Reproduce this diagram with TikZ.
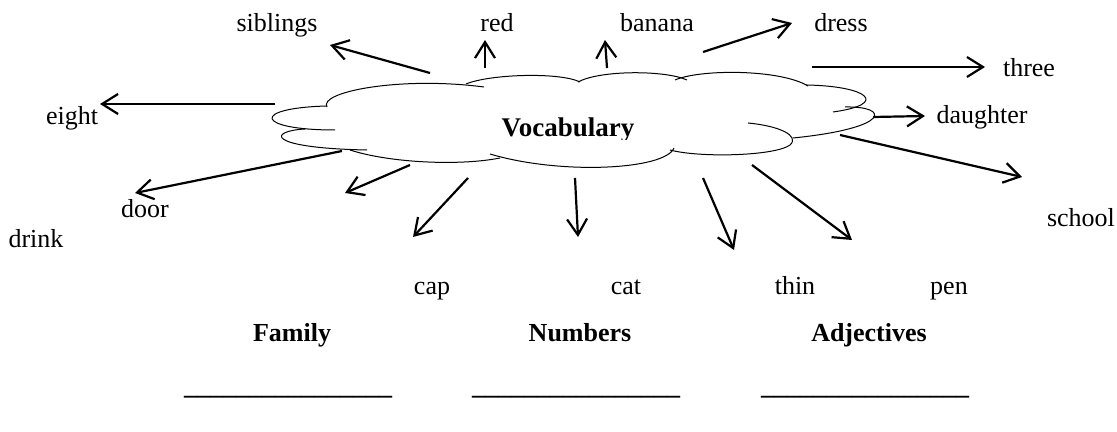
\documentclass[tikz,border=0pt]{standalone}
\usepackage{fontspec}
\setmainfont{Liberation Serif}
\usetikzlibrary{arrows.meta}

\begin{document}
\begin{tikzpicture}[x=0.5pt,y=-0.5pt,
  word/.style={anchor=base,inner sep=0pt,font=\fontsize{13}{15}\selectfont},
  topic/.style={word,font=\fontsize{13}{15}\selectfont\bfseries},
  lobe/.style={line width=0.5pt},
  arr/.style={line width=1.1pt,-{Straight Barb[length=8pt,width=10pt]}}]
\useasboundingbox (0,0) rectangle (1117,432);

% cloud
\draw[lobe] (327,107) .. controls (318,92) and (400,76) .. (484,87);
\draw[lobe] (466,84) .. controls (490,74) and (560,72) .. (580,82);
\draw[lobe] (578,82) .. controls (600,70) and (665,70) .. (687,80);
\draw[lobe] (675,80) .. controls (700,69) and (780,69) .. (808,86);
\draw[lobe] (806,85) .. controls (868,86) and (890,104) .. (833,112);
\draw[lobe] (845,107) .. controls (890,106) and (892,128) .. (793,138);
\draw[lobe] (748,123) .. controls (780,126) and (800,136) .. (790,145) .. controls (775,156) and (700,158) .. (670,150);
\draw[lobe] (674,148) .. controls (665,170) and (560,175) .. (490,154);
\draw[lobe] (350,150) .. controls (390,163) and (460,166) .. (500,158);
\draw[lobe] (305,129) .. controls (268,131) and (265,148) .. (367,150);
\draw[lobe] (327,106) .. controls (250,108) and (255,130) .. (335,130);
\begin{scope}
\clip (480,105) rectangle (660,140);
\node[word,font=\fontsize{13.5}{16}\selectfont\bfseries] (voc) at (568,137) {Vocabulary};
\end{scope}

\node[word] (sib) at (277,32) {siblings};
\node[word] (red) at (497,32) {red};
\node[word] (ban) at (657,32) {banana};
\node[word] (dre) at (841,32) {dress};
\node[word] (thr) at (1029,77) {three};
\node[word] (dau) at (982,124) {daughter};
\node[word] (eig) at (72,125) {eight};
\node[word] (doo) at (145,218) {door};
\node[word] (dri) at (36,248) {drink};
\node[word] (sch) at (1081,227) {school};
\node[word] (cap) at (432,295) {cap};
\node[word] (cat) at (626,295) {cat};
\node[word] (thi) at (795,295) {thin};
\node[word] (pen) at (949,295) {pen};

\node[topic] (fam) at (292,342) {Family};
\node[topic] (num) at (580,342) {Numbers};
\node[topic] (adj) at (869,342) {Adjectives};
\node[topic] (famline) at (288,394) {\_\_\_\_\_\_\_\_\_\_\_\_\_\_\_\_};
\node[topic] (numline) at (576,394) {\_\_\_\_\_\_\_\_\_\_\_\_\_\_\_\_};
\node[topic] (adjline) at (865,394) {\_\_\_\_\_\_\_\_\_\_\_\_\_\_\_\_};

% arrow ends
\coordinate (sibA) at (430,73);  \coordinate (sibB) at (330,45);
\coordinate (redA) at (485,68);  \coordinate (redB) at (485,40);
\coordinate (banA) at (607,68);  \coordinate (banB) at (605,40);
\coordinate (dreA) at (703,52);  \coordinate (dreB) at (792,23);
\coordinate (thrA) at (812,67);  \coordinate (thrB) at (985,67);
\coordinate (dauA) at (873,117); \coordinate (dauB) at (925,116);
\coordinate (schA) at (840,135); \coordinate (schB) at (1022,177);
\coordinate (penA) at (752,165); \coordinate (penB) at (852,240);
\coordinate (thiA) at (703,178); \coordinate (thiB) at (734,250);
\coordinate (catA) at (575,178); \coordinate (catB) at (578,237);
\coordinate (capA) at (468,178); \coordinate (capB) at (413,237);
\coordinate (driA) at (410,165); \coordinate (driB) at (345,193);
\coordinate (dooA) at (342,151); \coordinate (dooB) at (135,193);
\coordinate (eigA) at (275,104); \coordinate (eigB) at (100,104);

\draw[arr] (sibA) -- (sibB);
\draw[arr] (redA) -- (redB);
\draw[arr] (banA) -- (banB);
\draw[arr] (dreA) -- (dreB);
\draw[arr] (thrA) -- (thrB);
\draw[arr] (dauA) -- (dauB);
\draw[arr] (schA) -- (schB);
\draw[arr] (penA) -- (penB);
\draw[arr] (thiA) -- (thiB);
\draw[arr] (catA) -- (catB);
\draw[arr] (capA) -- (capB);
\draw[arr] (driA) -- (driB);
\draw[arr] (dooA) -- (dooB);
\draw[arr] (eigA) -- (eigB);

\end{tikzpicture}
\end{document}
